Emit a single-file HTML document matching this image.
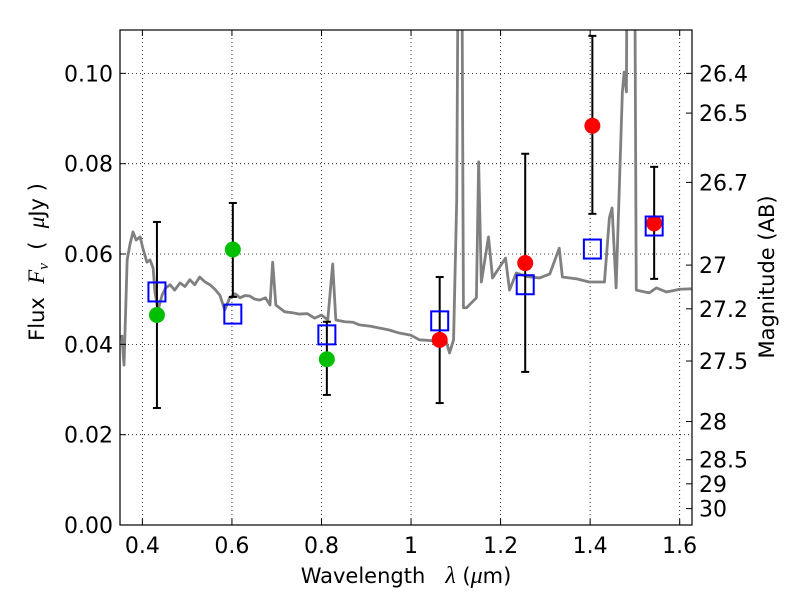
<!DOCTYPE html>
<html><head><meta charset="utf-8"><style>
html,body{margin:0;padding:0;background:#fff;}
svg{display:block;font-family:"DejaVu Sans","Liberation Sans",sans-serif;}
text{white-space:pre;}
</style></head><body>
<svg id="chart" width="800" height="600" viewBox="0 0 800 600">
<g id="grid"></g>
<g id="plot"></g>
<rect x="120" y="30" width="572" height="495" fill="none" stroke="#000" stroke-width="1.2"/>
<g id="axes"></g>
<text x="406" y="583" font-size="21" text-anchor="middle">Wavelength   <tspan font-family="Liberation Serif,serif" font-style="italic" font-size="24">λ</tspan> (<tspan font-family="Liberation Serif,serif" font-style="italic" font-size="24">μ</tspan>m)</text>
<text transform="translate(44,262) rotate(-90)" font-size="21" text-anchor="middle">Flux  <tspan font-family="Liberation Serif,serif" font-style="italic" font-size="23">F<tspan font-size="15" dy="4">ν</tspan></tspan><tspan dy="-4">  (  </tspan><tspan font-family="Liberation Serif,serif" font-style="italic" font-size="23">μ</tspan>Jy )</text>
<text transform="translate(774,277) rotate(-90)" font-size="21" text-anchor="middle">Magnitude (AB)</text>
</svg>
<script>
const specLam=[0.354,0.359,0.366,0.372,0.379,0.386,0.395,0.401,0.410,0.417,0.424,0.428,0.435,0.444,0.452,0.462,0.472,0.484,0.495,0.506,0.517,0.528,0.540,0.551,0.562,0.573,0.584,0.595,0.607,0.618,0.629,0.640,0.651,0.662,0.675,0.685,0.691,0.698,0.718,0.735,0.751,0.768,0.785,0.800,0.814,0.825,0.832,0.852,0.870,0.885,0.910,0.930,0.950,0.974,1.000,1.019,1.050,1.079,1.086,1.095,1.102,1.106,1.113,1.117,1.124,1.146,1.151,1.157,1.173,1.182,1.211,1.220,1.235,1.260,1.287,1.310,1.331,1.338,1.370,1.398,1.432,1.443,1.449,1.458,1.472,1.476,1.481,1.483,1.499,1.503,1.532,1.548,1.570,1.600,1.626];
const specFlux=[0.0421,0.0354,0.0587,0.0620,0.0649,0.0631,0.0638,0.0613,0.0582,0.0587,0.0569,0.0516,0.0476,0.0509,0.0525,0.0532,0.0520,0.0536,0.0528,0.0543,0.0532,0.0549,0.0538,0.0532,0.0522,0.0509,0.0476,0.0503,0.0512,0.0503,0.0508,0.0507,0.0500,0.0498,0.0503,0.0487,0.0582,0.0487,0.0472,0.0470,0.0467,0.0468,0.0458,0.0465,0.0454,0.0578,0.0454,0.0450,0.0449,0.0443,0.0440,0.0436,0.0432,0.0425,0.0420,0.0410,0.0408,0.0405,0.0381,0.0410,0.072,0.14,0.14,0.0481,0.0481,0.0503,0.0804,0.0538,0.0638,0.0547,0.0591,0.0520,0.0558,0.0550,0.0547,0.0556,0.0613,0.0549,0.0545,0.0538,0.0538,0.0680,0.0702,0.0525,0.0959,0.1003,0.0959,0.14,0.14,0.0520,0.0514,0.0525,0.0516,0.0522,0.0523];
const greenLam=[0.4325,0.602,0.812];
const greenFlux=[0.0465,0.061,0.0367];
const greenLo=[0.0259,0.0505,0.0288];
const greenHi=[0.0671,0.0713,0.0450];
const redLam=[1.064,1.255,1.405,1.543];
const redFlux=[0.041,0.058,0.0884,0.0668];
const redLo=[0.027,0.0339,0.0689,0.0545];
const redHi=[0.0549,0.0822,0.1083,0.0793];
const modelLam=[0.4325,0.602,0.812,1.064,1.255,1.405,1.543];
const modelFlux=[0.0516,0.0467,0.0421,0.0452,0.0532,0.0611,0.0662];
const xTicks=[0.4,0.6,0.8,1.0,1.2,1.4,1.6];
const xTickLabels=["0.4","0.6","0.8","1","1.2","1.4","1.6"];
const yTicks=[0,0.02,0.04,0.06,0.08,0.10];
const yTickLabels=["0.00","0.02","0.04","0.06","0.08","0.10"];
const magTicks=[26.4,26.5,26.7,27,27.2,27.5,28,28.5,29,30];

const X0=120,X1=692,Y0=525,Y1=30,LMIN=0.35,LMAX=1.6275,FMIN=0,FMAX=0.1096;
const sx=v=>X0+(v-LMIN)/(LMAX-LMIN)*(X1-X0);
const sy=v=>Y0-(v-FMIN)/(FMAX-FMIN)*(Y0-Y1);
const NS="http://www.w3.org/2000/svg";
function mk(tag,attrs,parent){const e=document.createElementNS(NS,tag);for(const k in attrs)e.setAttribute(k,attrs[k]);parent.appendChild(e);return e;}
const grid=document.getElementById('grid'),plot=document.getElementById('plot'),axes=document.getElementById('axes');

xTicks.forEach((t,i)=>{
  const x=sx(t);
  const g=mk('line',{x1:x,x2:x,y1:Y1,y2:Y0,stroke:'#000','stroke-width':0.8,'stroke-dasharray':'1,3'},grid);
  
  
  const tk=mk('line',{x1:x,x2:x,y1:Y0,y2:Y0-6,stroke:'#000'},axes);
  
  
  const tk2=mk('line',{x1:x,x2:x,y1:Y1,y2:Y1+6,stroke:'#000'},axes);
  
  
  const tl=mk('text',{x:x,y:553,'font-size':22,'text-anchor':'middle'},axes);
  tl.textContent=xTickLabels[i];
  
  
});
yTicks.forEach((t,i)=>{
  const y=sy(t);
  const g=mk('line',{x1:X0,x2:X1,y1:y,y2:y,stroke:'#000','stroke-width':0.8,'stroke-dasharray':'1,3'},grid);
  
  
  const tk=mk('line',{x1:X0,x2:X0+6,y1:y,y2:y,stroke:'#000'},axes);
  
  
  const tl=mk('text',{x:113,y:y+8,'font-size':22,'text-anchor':'end'},axes);
  tl.textContent=yTickLabels[i];
  
  
});
magTicks.forEach(m=>{
  const y=sy(Math.pow(10,(23.9-m)/2.5));
  const tk=mk('line',{x1:X1-6,x2:X1,y1:y,y2:y,stroke:'#000'},axes);
  
  
  const tl=mk('text',{x:699,y:y+8,'font-size':22},axes);
  tl.textContent=String(m);
  
  
});

const cp=mk('clipPath',{id:'clip'},plot);
mk('rect',{x:X0,y:Y1,width:X1-X0,height:Y0-Y1},cp);
const spec=mk('polyline',{points:specLam.map((l,i)=>sx(l)+','+sy(specFlux[i])).join(' '),fill:'none',stroke:'#808080','stroke-width':2.8,'stroke-linejoin':'round','clip-path':'url(#clip)'},plot);



function errbar(l,lo,hi){
  const x=sx(l);
  const e=mk('g',{stroke:'#000','stroke-width':2},plot);
  
  
  mk('line',{x1:x,x2:x,y1:sy(lo),y2:sy(hi)},e);
  mk('line',{x1:x-4,x2:x+4,y1:sy(lo),y2:sy(lo)},e);
  mk('line',{x1:x-4,x2:x+4,y1:sy(hi),y2:sy(hi)},e);
}
greenLam.forEach((l,i)=>errbar(l,greenLo[i],greenHi[i]));
redLam.forEach((l,i)=>errbar(l,redLo[i],redHi[i]));
greenLam.forEach((l,i)=>{
  const c=mk('circle',{cx:sx(l),cy:sy(greenFlux[i]),r:8,fill:'#00bf00'},plot);
  
  
});
redLam.forEach((l,i)=>{
  const c=mk('circle',{cx:sx(l),cy:sy(redFlux[i]),r:8,fill:'#ff0000'},plot);
  
  
});
modelLam.forEach((l,i)=>{
  const r=mk('rect',{x:sx(l)-8.5,y:sy(modelFlux[i])-9.5,width:17,height:19,fill:'none',stroke:'#0000ff','stroke-width':2},plot);
  
  
});
</script>
</body></html>
